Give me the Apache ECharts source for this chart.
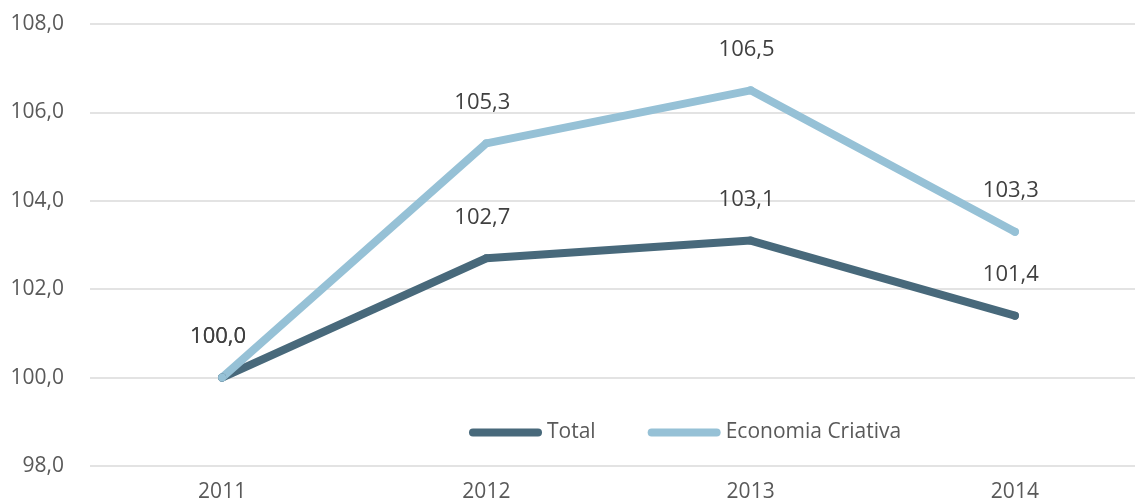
<!DOCTYPE html>
<html>
<head>
<meta charset="utf-8">
<style>
  html, body { margin: 0; padding: 0; background: #ffffff; }
  #chart { width: 1135px; height: 502px; }
</style>
<script src="https://cdn.jsdelivr.net/npm/echarts@6/dist/echarts.min.js"></script>
</head>
<body>
<div id="chart"></div>
<script>
// Index values (2011 = 100)
const years = ['2011', '2012', '2013', '2014'];
const totalValues = [100.0, 102.7, 103.1, 101.4];
const criativaValues = [100.0, 105.3, 106.5, 103.3];
const seriesNames = ['Total', 'Economia Criativa'];

const FONT = '"Open Sans", "Noto Sans", sans-serif';
const fmt = v => v.toFixed(1).replace('.', ',');

const chart = echarts.init(document.getElementById('chart'), null, { renderer: 'canvas' });

function lineSeries(name, values, color) {
  return {
    name: name,
    type: 'line',
    data: values,
    symbol: 'circle',
    symbolSize: 8,
    itemStyle: { color: color },
    lineStyle: { color: color, width: 8, cap: 'round', join: 'round' },
    label: {
      show: true,
      position: 'top',
      distance: 26,
      offset: [-4, 0],
      color: '#404040',
      fontFamily: FONT,
      fontSize: 22,
      formatter: p => fmt(p.value)
    },
    emphasis: { disabled: true }
  };
}

chart.setOption({
  animation: false,
  backgroundColor: '#ffffff',
  grid: {
    left: 90, width: 1057, top: 24, bottom: 36,
    containLabel: false,
    outerBoundsMode: 'none'
  },
  legend: {
    data: seriesNames,
    left: 464,
    top: 417,
    itemWidth: 73,
    itemHeight: 8,
    itemGap: 52,
    icon: 'path://M4,0 H69 A4,4 0 0 1 69,8 H4 A4,4 0 0 1 4,0 Z',
    textStyle: { color: '#595959', fontFamily: FONT, fontSize: 21 },
    selectedMode: false
  },
  xAxis: {
    type: 'category',
    data: years,
    boundaryGap: true,
    axisLine: { show: false },
    axisTick: { show: false },
    axisLabel: { color: '#595959', fontFamily: FONT, fontSize: 21, margin: 16 }
  },
  yAxis: {
    type: 'value',
    min: 98,
    max: 108,
    interval: 2,
    axisLine: { show: false },
    axisTick: { show: false },
    axisLabel: { color: '#595959', fontFamily: FONT, fontSize: 21, margin: 26, formatter: v => fmt(v) },
    splitLine: { show: true, lineStyle: { color: '#e3e3e3', width: 2 } }
  },
  series: [
    lineSeries(seriesNames[0], totalValues, '#48697b'),
    lineSeries(seriesNames[1], criativaValues, '#96c1d6')
  ]
});
</script>
</body>
</html>
